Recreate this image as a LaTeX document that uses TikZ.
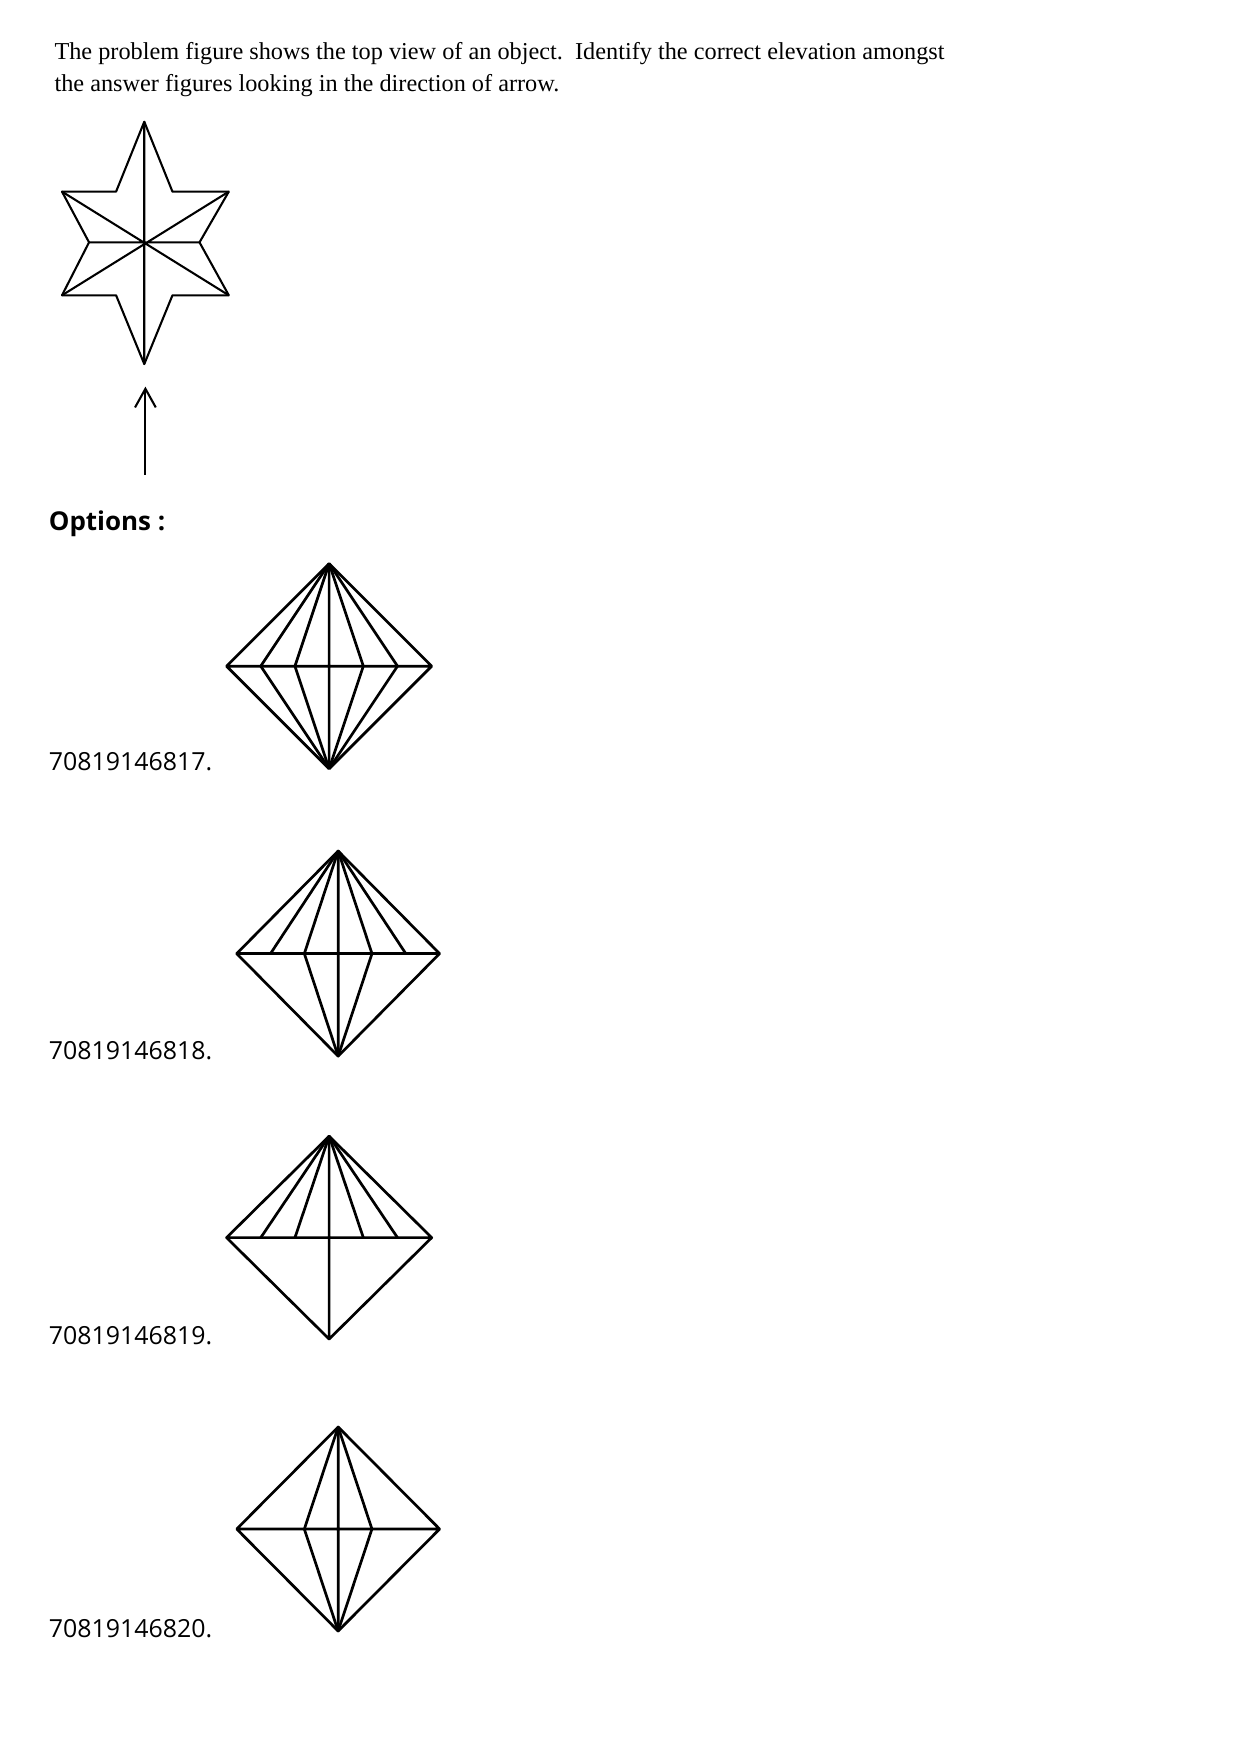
\documentclass[tikz,border=0pt]{standalone}
\usepackage{fontspec}
\setmainfont{Open Sans}
\newfontfamily\qfont{Liberation Serif}
\usetikzlibrary{positioning,arrows.meta}
\tikzset{fig/.style={line width=1.3pt,line join=round},
  lbl/.style={anchor=base west,inner sep=0pt,font=\fontsize{12}{14}\selectfont}}
% diamond: #1 = name, (#2,#3) = top, #4 = half width, #5 = height
\newcommand{\gem}[5]{%
  \coordinate (#1t) at (#2,#3);
  \coordinate (#1b) at (#2,#3+#5);
  \foreach \k in {0,...,6}
    \coordinate (#1p\k) at ({#2-#4+\k*#4/3},{#3+#5/2});
  \draw[fig] (#1p0) -- (#1t) -- (#1p6) -- (#1b) -- cycle (#1p0) -- (#1p6) (#1t) -- (#1b);}
\begin{document}
\begin{tikzpicture}[x=0.01909cm,y=-0.01909cm]
  \useasboundingbox (0,0) rectangle (1100,1557);
  % question
  \node[lbl,font=\qfont\fontsize{11.7}{14}\selectfont] (q1) at (48,53) {The problem figure shows the top view of an object.\ \ Identify the correct elevation amongst};
  \node[lbl,font=\qfont\fontsize{11.7}{14}\selectfont] (q2) at (48,81) {the answer figures looking in the direction of arrow.};
  % star
  \coordinate (c) at (128,215);
  \coordinate (st) at (128,108);  \coordinate (sb) at (128,323);
  \coordinate (ol1) at (55,170);  \coordinate (or1) at (203,170);
  \coordinate (ol2) at (55,262);  \coordinate (or2) at (203,262);
  \coordinate (il1) at (103,170); \coordinate (ir1) at (153,170);
  \coordinate (il2) at (103,262); \coordinate (ir2) at (153,262);
  \coordinate (ml) at (79,215);   \coordinate (mr) at (177,215);
  \draw[fig,line width=1pt] (st) -- (ir1) -- (or1) -- (mr) -- (or2) -- (ir2) -- (sb)
    -- (il2) -- (ol2) -- (ml) -- (ol1) -- (il1) -- cycle;
  \draw[fig,line width=1pt] (st) -- (sb) (ml) -- (mr) (ol1) -- (or2) (or1) -- (ol2);
  \coordinate (a1) at (129,421); \coordinate (a2) at (129,343);
  \draw[line width=1pt,-{Straight Barb[length=9pt,width=10pt]}] (a1) -- (a2);
  \node[lbl,font=\bfseries\fontsize{12.5}{14}\selectfont] (opt) at (43,471) {Options :};
  % option 1
  \gem{g1}{292}{500}{91}{182}
  \foreach \k in {1,2,4,5} \draw[fig] (g1t) -- (g1p\k) -- (g1b);
  \node[lbl] (n1) at (43,684) {70819146817.};
  % option 2
  \gem{g2}{300}{755}{90}{182}
  \foreach \k in {1,2,4,5} \draw[fig] (g2t) -- (g2p\k);
  \foreach \k in {2,4} \draw[fig] (g2p\k) -- (g2b);
  \node[lbl] (n2) at (43,940) {70819146818.};
  % option 3
  \gem{g3}{292}{1008}{91}{180}
  \foreach \k in {1,2,4,5} \draw[fig] (g3t) -- (g3p\k);
  \node[lbl] (n3) at (43,1193) {70819146819.};
  % option 4
  \gem{g4}{300}{1266}{90}{181}
  \foreach \k in {2,4} \draw[fig] (g4t) -- (g4p\k) -- (g4b);
  \node[lbl] (n4) at (43,1453) {70819146820.};
\end{tikzpicture}
\end{document}
